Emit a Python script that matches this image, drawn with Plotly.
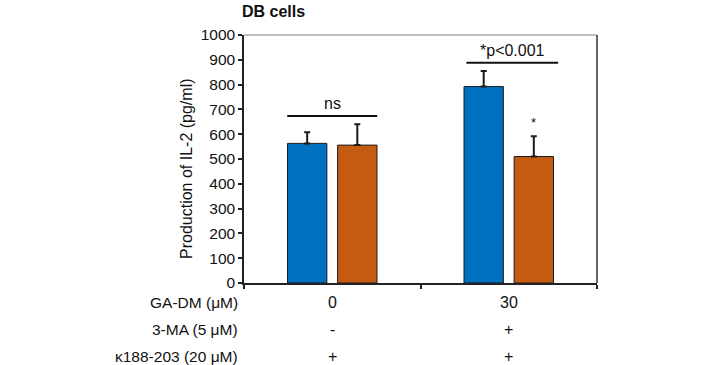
import plotly.graph_objects as go

categories = ["0", "30"]
ctrl_values = [563, 792]
ctrl_errors = [45, 63]
treated_values = [556, 510]
treated_errors = [84, 82]
ytick_vals = [0, 100, 200, 300, 400, 500, 600, 700, 800, 900, 1000]
row_labels = ["GA-DM (μM)", "3-MA (5 μM)", "κ188-203 (20 μM)"]
row_values = [["0", "30"], ["-", "+"], ["+", "+"]]
sig_texts = ["ns", "*p<0.001"]
sig_levels = [673, 888]
sig_spans = [(-0.255, 0.255), (-0.24, 0.28)]
star_value = 646

BLUE = "#0070C0"
ORANGE = "#C55A11"
FONT = "Liberation Sans, Arial, sans-serif"
W, H = 706, 365
L, R, T, B = 244, 109, 35, 82
PW, PH = W - L - R, H - T - B


def px_x(x):
    return (x - L) / PW


def px_y(y):
    return (H - B - y) / PH


fig = go.Figure()
fig.add_trace(go.Bar(
    x=categories, y=ctrl_values, marker=dict(color=BLUE, line=dict(color="#1a1a1a", width=1)),
    error_y=dict(type="data", array=ctrl_errors, arrayminus=[0, 0], symmetric=False,
                 thickness=2, width=3, color="#1a1a1a"),
    showlegend=False, hoverinfo="skip"))
fig.add_trace(go.Bar(
    x=categories, y=treated_values, marker=dict(color=ORANGE, line=dict(color="#1a1a1a", width=1)),
    error_y=dict(type="data", array=treated_errors, arrayminus=[0, 0], symmetric=False,
                 thickness=2, width=3, color="#1a1a1a"),
    showlegend=False, hoverinfo="skip"))

shapes = []
annotations = []
for txt, lvl, (a, b), ci in zip(sig_texts, sig_levels, sig_spans, [0, 1]):
    shapes.append(dict(type="line", xref="x", yref="y", x0=ci + a, x1=ci + b, y0=lvl, y1=lvl,
                       line=dict(color="#111", width=2)))
    annotations.append(dict(x=ci + (a + b) / 2, y=lvl, xref="x", yref="y", text=txt, showarrow=False,
                            yanchor="bottom", yshift=2, font=dict(size=16, color="#111", family=FONT)))
annotations.append(dict(x=1.142, y=star_value, xref="x", yref="y", text="*", showarrow=False,
                        yanchor="middle", font=dict(size=13, color="#111", family=FONT)))

# frame: top (lighter) and right
shapes.append(dict(type="line", xref="paper", yref="paper", x0=0, x1=1, y0=1, y1=1,
                   line=dict(color="#7f7f7f", width=1)))
shapes.append(dict(type="line", xref="paper", yref="paper", x0=1, x1=1, y0=0, y1=1,
                   line=dict(color="#333", width=1.5)))

row_y_px = [302, 329, 356]
for lab, vals, ypx in zip(row_labels, row_values, row_y_px):
    yp = px_y(ypx)
    annotations.append(dict(x=px_x(240), xref="paper", y=yp, yref="paper", text=lab, showarrow=False,
                            xanchor="right", yanchor="middle",
                            font=dict(size=15.5, color="#111", family=FONT)))
    for ci, v in enumerate(vals):
        annotations.append(dict(x=ci, xref="x", y=yp, yref="paper", text=v, showarrow=False,
                                xanchor="center", yanchor="middle",
                                font=dict(size=16, color="#111", family=FONT)))

annotations.append(dict(x=px_x(240), xref="paper", y=px_y(11), yref="paper", text="<b>DB cells</b>",
                        showarrow=False, xanchor="left", yanchor="middle",
                        font=dict(size=16, color="#111", family=FONT)))
annotations.append(dict(x=px_x(186), xref="paper", y=px_y(169), yref="paper",
                        text="Production of IL-2 (pg/ml)", textangle=-90, showarrow=False,
                        xanchor="center", yanchor="middle",
                        font=dict(size=16, color="#111", family=FONT)))

fig.update_layout(
    width=W, height=H,
    margin=dict(l=L, r=R, t=T, b=B, autoexpand=False),
    paper_bgcolor="white", plot_bgcolor="white",
    barmode="group", bargap=0.432, bargroupgap=0.215,
    font=dict(family=FONT, size=15, color="#111"),
    shapes=shapes, annotations=annotations,
    xaxis=dict(type="category", showticklabels=False, showgrid=False, zeroline=False,
               showline=True, linecolor="#222", linewidth=1.5,
               ticks="outside", tickson="boundaries", ticklen=4, tickcolor="#222", tickwidth=1.5,
               range=[-0.5, 1.5]),
    yaxis=dict(range=[0, 1000], tickvals=ytick_vals, showgrid=False, zeroline=False,
               showline=True, linecolor="#222", linewidth=1.5,
               ticks="outside", ticklen=4, tickcolor="#222", tickwidth=1.5,
               tickfont=dict(size=15.5, color="#111")),
)

fig.write_html("out.html", config={"displayModeBar": False},
               post_script="document.body.style.margin='0';")
